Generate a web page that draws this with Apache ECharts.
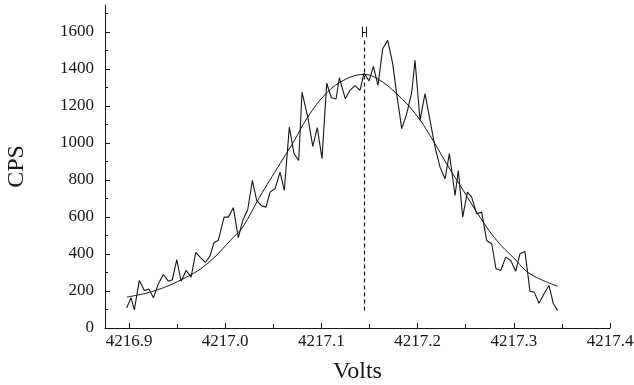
<!DOCTYPE html>
<html>
<head>
<meta charset="utf-8">
<script src="https://cdn.jsdelivr.net/npm/echarts@6/dist/echarts.min.js"></script>
<style>
  html, body { margin: 0; padding: 0; background: #fff; }
  #main { width: 634px; height: 385px; }
</style>
</head>
<body>
<div id="main"></div>
<script>
// scan points (volts) and measured counts
const volts = [
  4216.8976, 4216.9021, 4216.9055, 4216.9107, 4216.9159, 4216.9208, 4216.9253, 4216.9305, 4216.9357, 4216.9409,
  4216.9450, 4216.9496, 4216.9541, 4216.9593, 4216.9645, 4216.9693, 4216.9745, 4216.9793, 4216.9842, 4216.9884,
  4216.9928, 4216.9988, 4217.0032, 4217.0084, 4217.0136, 4217.0182, 4217.0234, 4217.0282, 4217.0327, 4217.0372,
  4217.0424, 4217.0466, 4217.0518, 4217.0570, 4217.0614, 4217.0666, 4217.0715, 4217.0764, 4217.0798, 4217.0858,
  4217.0910, 4217.0957, 4217.1006, 4217.1055, 4217.1103, 4217.1152, 4217.1186, 4217.1248, 4217.1297, 4217.1349,
  4217.1401, 4217.1443, 4217.1495, 4217.1540, 4217.1588, 4217.1637, 4217.1689, 4217.1741, 4217.1781, 4217.1835,
  4217.1887, 4217.1939, 4217.1973, 4217.2025, 4217.2077, 4217.2129, 4217.2181, 4217.2233, 4217.2285, 4217.2330,
  4217.2389, 4217.2423, 4217.2469, 4217.2517, 4217.2562, 4217.2614, 4217.2666, 4217.2718, 4217.2770, 4217.2815,
  4217.2864, 4217.2916, 4217.2968, 4217.3020, 4217.3064, 4217.3116, 4217.3168, 4217.3213, 4217.3262, 4217.3314,
  4217.3366, 4217.3411, 4217.3456
];
const cps = [
  109, 163, 98, 257, 203, 210, 163, 239, 289, 253,
  261, 369, 253, 311, 275, 408, 379, 354, 390, 462,
  473, 599, 599, 650, 488, 581, 640, 797, 689, 662,
  653, 734, 752, 842, 743, 1085, 942, 905, 1274, 1139,
  981, 1082, 915, 1323, 1244, 1237, 1352, 1239, 1284, 1309,
  1284, 1377, 1334, 1413, 1311, 1509, 1554, 1428, 1270, 1077,
  1158, 1274, 1446, 1122, 1266, 1122, 977, 869, 806, 942,
  716, 851, 599, 734, 707, 617, 626, 473, 455, 320,
  311, 383, 365, 307, 401, 413, 199, 194, 134, 185,
  230, 131, 95
];

// fitted profile
const fitVolts = [
  4216.8976, 4216.9253, 4216.9548, 4216.9808, 4217.0084, 4217.0182, 4217.0355, 4217.0570,
  4217.0715, 4217.0858, 4217.1055, 4217.1248, 4217.1443, 4217.1588, 4217.1781, 4217.1973,
  4217.2129, 4217.2302, 4217.2475, 4217.2648, 4217.2822, 4217.2998, 4217.3168, 4217.3456
];
const fitCps = [
  167, 199, 262, 345, 490, 545, 705, 888,
  1010, 1140, 1270, 1343, 1370, 1345, 1266, 1160,
  1040, 887, 743, 599, 473, 379, 293, 226
];

const xTickLabels = [4216.9, 4217.0, 4217.1, 4217.2, 4217.3, 4217.4];
const xMinorTicks = [4216.95, 4217.05, 4217.15, 4217.25, 4217.35];
const yTickLabels = [0, 200, 400, 600, 800, 1000, 1200, 1400, 1600];
const yMinorTicks = [100, 300, 500, 700, 900, 1100, 1300, 1500, 1700];

// peak centre marker
const peakCenter = 4217.1443;
const peakErr = 0.0018;
const peakLine = [95, 1555];
const errBarCps = 1600;

const ink = '#161616';
const font = 'Liberation Serif';

const chart = echarts.init(document.getElementById('main'));

const mkSeg = (a, b) => [{ coord: a }, { coord: b }];

chart.setOption({
  animation: false,
  backgroundColor: '#fff',
  grid: { left: 105, right: 24, top: 5, bottom: 57, containLabel: false, outerBoundsMode: 'none' },
  xAxis: [
    {
      type: 'value', min: 4216.875, max: 4217.4,
      name: 'Volts', nameLocation: 'middle', nameGap: 32,
      nameTextStyle: { fontFamily: font, fontSize: 24, color: ink },
      axisLine: { lineStyle: { color: ink, width: 1 } },
      axisTick: { show: true, inside: true, length: 5, customValues: xTickLabels, lineStyle: { color: ink } },
      axisLabel: {
        customValues: xTickLabels, margin: 5,
        fontFamily: font, fontSize: 17, color: ink,
        formatter: v => v.toFixed(1)
      },
      splitLine: { show: false }
    },
    {
      type: 'value', min: 4216.875, max: 4217.4, position: 'bottom',
      axisLine: { show: false },
      axisTick: { show: true, inside: true, length: 4, customValues: xMinorTicks, lineStyle: { color: ink } },
      axisLabel: { show: false },
      splitLine: { show: false }
    }
  ],
  yAxis: [
    {
      type: 'value', min: 0, max: 1745,
      name: 'CPS', nameLocation: 'middle', nameGap: 76, nameRotate: 90,
      nameTextStyle: { fontFamily: font, fontSize: 24, color: ink },
      axisLine: { show: true, lineStyle: { color: ink, width: 1 } },
      axisTick: { show: true, inside: true, length: 5, customValues: yTickLabels, lineStyle: { color: ink } },
      axisLabel: {
        customValues: yTickLabels, margin: 11,
        fontFamily: font, fontSize: 17, color: ink,
        formatter: v => String(v)
      },
      splitLine: { show: false }
    },
    {
      type: 'value', min: 0, max: 1745, position: 'left',
      axisLine: { show: false },
      axisTick: { show: true, inside: true, length: 3, customValues: yMinorTicks, lineStyle: { color: ink } },
      axisLabel: { show: false },
      splitLine: { show: false }
    }
  ],
  series: [
    {
      type: 'line',
      data: volts.map((v, i) => [v, cps[i]]),
      showSymbol: false,
      lineStyle: { color: ink, width: 1.1 },
      z: 3
    },
    {
      type: 'line',
      data: fitVolts.map((v, i) => [v, fitCps[i]]),
      showSymbol: false,
      smooth: 0.4,
      lineStyle: { color: ink, width: 1 },
      markLine: {
        silent: true,
        symbol: 'none',
        label: { show: false },
        data: [
          mkSeg([peakCenter, peakLine[0]], [peakCenter, peakLine[1]])
        ],
        lineStyle: { color: ink, width: 1.2, type: [4, 3] }
      },
      z: 2
    },
    {
      // error bar on the peak centre
      type: 'line',
      data: [],
      markLine: {
        silent: true,
        symbol: 'none',
        label: { show: false },
        lineStyle: { color: ink, width: 1, type: 'solid' },
        data: [
          mkSeg([peakCenter - peakErr, errBarCps], [peakCenter + peakErr, errBarCps]),
          mkSeg([peakCenter - peakErr, errBarCps - 28], [peakCenter - peakErr, errBarCps + 28]),
          mkSeg([peakCenter + peakErr, errBarCps - 28], [peakCenter + peakErr, errBarCps + 28])
        ]
      }
    }
  ]
});
</script>
</body>
</html>
